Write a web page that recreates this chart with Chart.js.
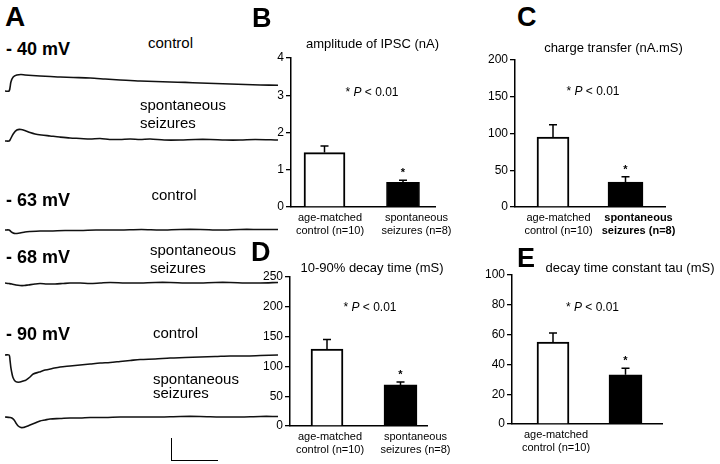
<!DOCTYPE html>
<html>
<head>
<meta charset="utf-8">
<script src="https://cdn.jsdelivr.net/npm/chart.js@4.4.1/dist/chart.umd.min.js"></script>
<style>
  html, body { margin: 0; padding: 0; background: #fff; }
  #fig { position: relative; width: 720px; height: 464px; overflow: hidden;
         font-family: "Liberation Sans", Arial, sans-serif; color: #000; }
  #fig canvas { position: absolute; }
  .t { position: absolute; white-space: nowrap; line-height: 1; }
</style>
</head>
<body>
<div id="fig"></div>
<script>
// ---- data: IPSC traces, [time (ms), current (pA)] ----
const trace40Control = [[0,0],[9,0],[13,82],[18,127],[26,146],[35,150],[44,146],[60,141],[77,137],[100,132],[121,127],[150,123],[187,118],[220,109],[253,100],[275,96],[297,91],[330,86],[363,82],[396,78],[429,73],[462,68],[495,64],[528,59],[561,55],[600,52]];
const trace40Spont = [[0,0],[9,0],[11,9],[18,64],[26,100],[35,105],[46,91],[55,77],[66,64],[80,55],[99,46],[120,36],[143,27],[165,23],[187,18],[209,23],[230,14],[253,14],[275,18],[297,14],[319,18],[350,9],[385,9],[418,14],[451,14],[484,9],[517,9],[550,14],[600,9]];
const trace63Control = [[0,0],[9,0],[13,-14],[18,-27],[22,-32],[33,-27],[44,-18],[55,-14],[77,-9],[99,-9],[132,-5],[165,-5],[200,0],[253,0],[300,5],[341,0],[385,5],[429,5],[473,0],[517,5],[560,5],[600,5]];
const trace68Spont = [[0,0],[9,-5],[15,-9],[24,-18],[33,-23],[42,-23],[51,-18],[66,-9],[77,-5],[92,-9],[110,-9],[126,-5],[143,0],[165,0],[187,-5],[209,0],[231,5],[264,0],[297,0],[330,5],[363,5],[396,0],[429,0],[462,5],[495,5],[528,0],[561,0],[600,5]];
const trace90Control = [[0,0],[9,0],[11,-46],[13,-118],[16,-182],[18,-209],[22,-237],[26,-246],[33,-246],[40,-237],[46,-228],[55,-200],[62,-173],[75,-155],[88,-137],[104,-123],[121,-109],[143,-100],[165,-91],[187,-82],[209,-73],[231,-68],[253,-59],[275,-50],[297,-41],[330,-36],[363,-27],[396,-23],[429,-18],[462,-14],[495,-9],[528,-9],[561,-5],[600,0]];
const trace90Spont = [[0,0],[11,-5],[15,-9],[20,-27],[24,-55],[29,-82],[35,-96],[40,-96],[44,-91],[55,-73],[66,-55],[77,-36],[88,-27],[99,-18],[121,-14],[143,-9],[165,-9],[187,-5],[220,-5],[253,0],[297,0],[341,0],[385,5],[429,5],[473,0],[517,0],[561,5],[600,5]];

// ---- data: bar panels (mean, SEM) ----
const groupLabels = [['age-matched', 'control (n=10)'], ['spontaneous', 'seizures (n=8)']];
const ipscAmp = [1.46, 0.66];
const ipscAmpErr = [0.18, 0.06];
const ipscTicks = [0, 1, 2, 3, 4];
const chargeTransfer = [95, 34];
const chargeTransferErr = [17, 7];
const chargeTicks = [0, 50, 100, 150, 200];
const decay1090 = [129, 69];
const decay1090Err = [16, 5];
const decay1090Ticks = [0, 50, 100, 150, 200, 250];
const decayTau = [55, 33];
const decayTauErr = [6, 4.5];
const decayTauTicks = [0, 20, 40, 60, 80, 100];

const FONT = '"Liberation Sans", Arial, sans-serif';
Chart.defaults.font.family = FONT;
Chart.defaults.color = '#000';
const fig = document.getElementById('fig');

function makeCanvas(left, top, w, h) {
  const c = document.createElement('canvas');
  c.width = w; c.height = h;
  c.style.left = left + 'px'; c.style.top = top + 'px';
  c.style.width = w + 'px'; c.style.height = h + 'px';
  fig.appendChild(c);
  return c;
}

function addText(html, x, base, size, opts = {}) {
  const d = document.createElement('div');
  d.className = 't';
  d.innerHTML = html;
  d.style.fontSize = size + 'px';
  d.style.left = x + 'px';
  d.style.top = (base - 0.8465 * size) + 'px';
  if (opts.bold) d.style.fontWeight = 'bold';
  if (opts.center) d.style.transform = 'translateX(-50%)';
  fig.appendChild(d);
}

// ---- panel A: traces ----
const traces = [trace40Control, trace40Spont, trace63Control, trace68Spont, trace90Control, trace90Spont];
const traceBase = [91, 141, 229.5, 282.5, 355, 417];

traces.forEach((tr, k) => {
  const c = makeCanvas(1, traceBase[k] - 26, 281, 63);
  new Chart(c, {
    type: 'line',
    data: {
      datasets: [{
        data: tr.map(p => ({ x: p[0], y: p[1] })),
        borderColor: '#111',
        borderWidth: 1.6,
        pointRadius: 0,
        tension: 0.3,
        fill: false
      }]
    },
    options: {
      responsive: false,
      animation: false,
      devicePixelRatio: 1,
      layout: { padding: { left: 4, right: 4, top: 4, bottom: 4 } },
      plugins: { legend: { display: false }, tooltip: { enabled: false } },
      scales: {
        x: { type: 'linear', min: 0, max: 600, display: false },
        y: { min: -300, max: 200, display: false }
      }
    }
  });
});

// scale bar
const bar = document.createElement('div');
bar.style.cssText = 'position:absolute;left:171px;top:438px;width:46px;height:22px;border-left:1.5px solid #000;border-bottom:1.5px solid #000;';
fig.appendChild(bar);

addText('A', 5, 27, 28, { bold: true });
addText('- 40 mV', 6, 55, 18, { bold: true });
addText('control', 148, 48, 15);
addText('spontaneous', 140, 109.5, 15);
addText('seizures', 140, 127.5, 15);
addText('- 63 mV', 6, 206.5, 18, { bold: true });
addText('control', 151.5, 199.5, 15);
addText('- 68 mV', 6, 263, 18, { bold: true });
addText('spontaneous', 150, 255, 15);
addText('seizures', 150, 272.5, 15);
addText('- 90 mV', 6, 340, 18, { bold: true });
addText('control', 153, 338, 15);
addText('spontaneous', 153, 384, 15);
addText('seizures', 153, 397.5, 15);

// ---- bar panels ----
const errorBars = {
  id: 'errorBars',
  afterDatasetsDraw(chart) {
    const ctx = chart.ctx;
    const y = chart.scales.y;
    chart.data.datasets.forEach((ds, i) => {
      const el = chart.getDatasetMeta(i).data[0];
      const top = y.getPixelForValue(ds.data[0].y + ds.err);
      ctx.save();
      ctx.strokeStyle = '#000';
      ctx.lineWidth = 1.5;
      ctx.beginPath();
      ctx.moveTo(el.x, el.y);
      ctx.lineTo(el.x, top);
      ctx.moveTo(el.x - 4, top);
      ctx.lineTo(el.x + 4, top);
      ctx.stroke();
      if (ds.star) {
        ctx.fillStyle = '#000';
        ctx.font = 'bold 11px ' + FONT;
        ctx.textAlign = 'center';
        ctx.fillText('*', el.x, top - 4);
      }
      ctx.restore();
    });
  }
};

function barPanel(cfg) {
  const w = cfg.right - cfg.left, h = cfg.bottom - cfg.top;
  const c = makeCanvas(cfg.left - 40, cfg.top - 12, w + 40 + 45, h + 12 + 36);
  const f1 = (cfg.barX[0] - cfg.left) / w, f2 = (cfg.barX[1] - cfg.left) / w;
  const range = 1 / (f2 - f1);
  const xmin = 1 - f1 * range, xmax = xmin + range;
  const labelVals = cfg.labelX.map(px => xmin + (px - cfg.left) / w * range);
  const ticks = cfg.ticks;
  new Chart(c, {
    type: 'bar',
    data: {
      datasets: cfg.means.map((m, i) => ({
        data: [{ x: i + 1, y: m }],
        err: cfg.errs[i],
        star: i === 1,
        backgroundColor: i ? '#000' : '#fff',
        borderColor: '#000',
        borderWidth: i ? 1 : 2,
        borderSkipped: 'bottom',
        barThickness: cfg.barW[i],
        grouped: false
      }))
    },
    options: {
      responsive: false,
      animation: false,
      devicePixelRatio: 1,
      layout: { padding: { top: 12, right: 45, left: 0, bottom: 0 } },
      plugins: { legend: { display: false }, tooltip: { enabled: false } },
      scales: {
        x: {
          type: 'linear',
          min: xmin, max: xmax,
          offset: false,
          grid: { display: false, drawTicks: false },
          border: { display: true, color: '#000', width: 1.5 },
          afterBuildTicks: s => { s.ticks = labelVals.map(v => ({ value: v })); },
          afterFit: s => { s.height = 36; },
          ticks: {
            autoSkip: false, maxRotation: 0, padding: 5, color: '#000',
            callback: (v, i) => cfg.showLabel[i] ? groupLabels[i] : '',
            font: ctx => ({ family: FONT, size: 11, lineHeight: 1.15,
                            weight: cfg.boldLabel === ctx.index ? 'bold' : 'normal' })
          }
        },
        y: {
          min: ticks[0], max: ticks[ticks.length - 1],
          afterFit: s => { s.width = 40; },
          grid: { drawOnChartArea: false, drawTicks: true, tickLength: 5, color: '#000', lineWidth: 1.3 },
          border: { display: true, color: '#000', width: 1.5 },
          ticks: { stepSize: ticks[1] - ticks[0], padding: 2, color: '#000', font: { size: 12 } }
        }
      }
    },
    plugins: [errorBars]
  });
}

barPanel({ left: 291, right: 435, top: 58, bottom: 207, barX: [324.5, 403], labelX: [330, 416.5],
           barW: [41, 33], means: ipscAmp, errs: ipscAmpErr, ticks: ipscTicks, showLabel: [true, true], boldLabel: -1 });
barPanel({ left: 515, right: 665, top: 60, bottom: 207, barX: [553, 625.5], labelX: [558.5, 638.5],
           barW: [32, 35], means: chargeTransfer, errs: chargeTransferErr, ticks: chargeTicks, showLabel: [true, true], boldLabel: 1 });
barPanel({ left: 290, right: 427, top: 277, bottom: 426, barX: [327, 400.5], labelX: [330, 415.5],
           barW: [32, 33], means: decay1090, errs: decay1090Err, ticks: decay1090Ticks, showLabel: [true, true], boldLabel: -1 });
barPanel({ left: 512, right: 662, top: 275, bottom: 424, barX: [553, 625.5], labelX: [556, 638],
           barW: [32, 33], means: decayTau, errs: decayTauErr, ticks: decayTauTicks, showLabel: [true, false], boldLabel: -1 });

const P = '* <i>P</i> &lt; 0.01';
addText('B', 252, 27.5, 27, { bold: true });
addText('amplitude of IPSC (nA)', 372.5, 48, 13, { center: true });
addText(P, 372, 96, 12, { center: true });
addText('C', 517, 27, 27, { bold: true });
addText('charge transfer (nA.mS)', 613.5, 52, 13, { center: true });
addText(P, 593, 95, 12, { center: true });
addText('D', 251, 262, 27, { bold: true });
addText('10-90% decay time (mS)', 372, 272, 13, { center: true });
addText(P, 370, 311.5, 12, { center: true });
addText('E', 517, 268, 27, { bold: true });
addText('decay time constant tau (mS)', 630, 272.5, 13, { center: true });
addText(P, 592.5, 311, 12, { center: true });
</script>
</body>
</html>
